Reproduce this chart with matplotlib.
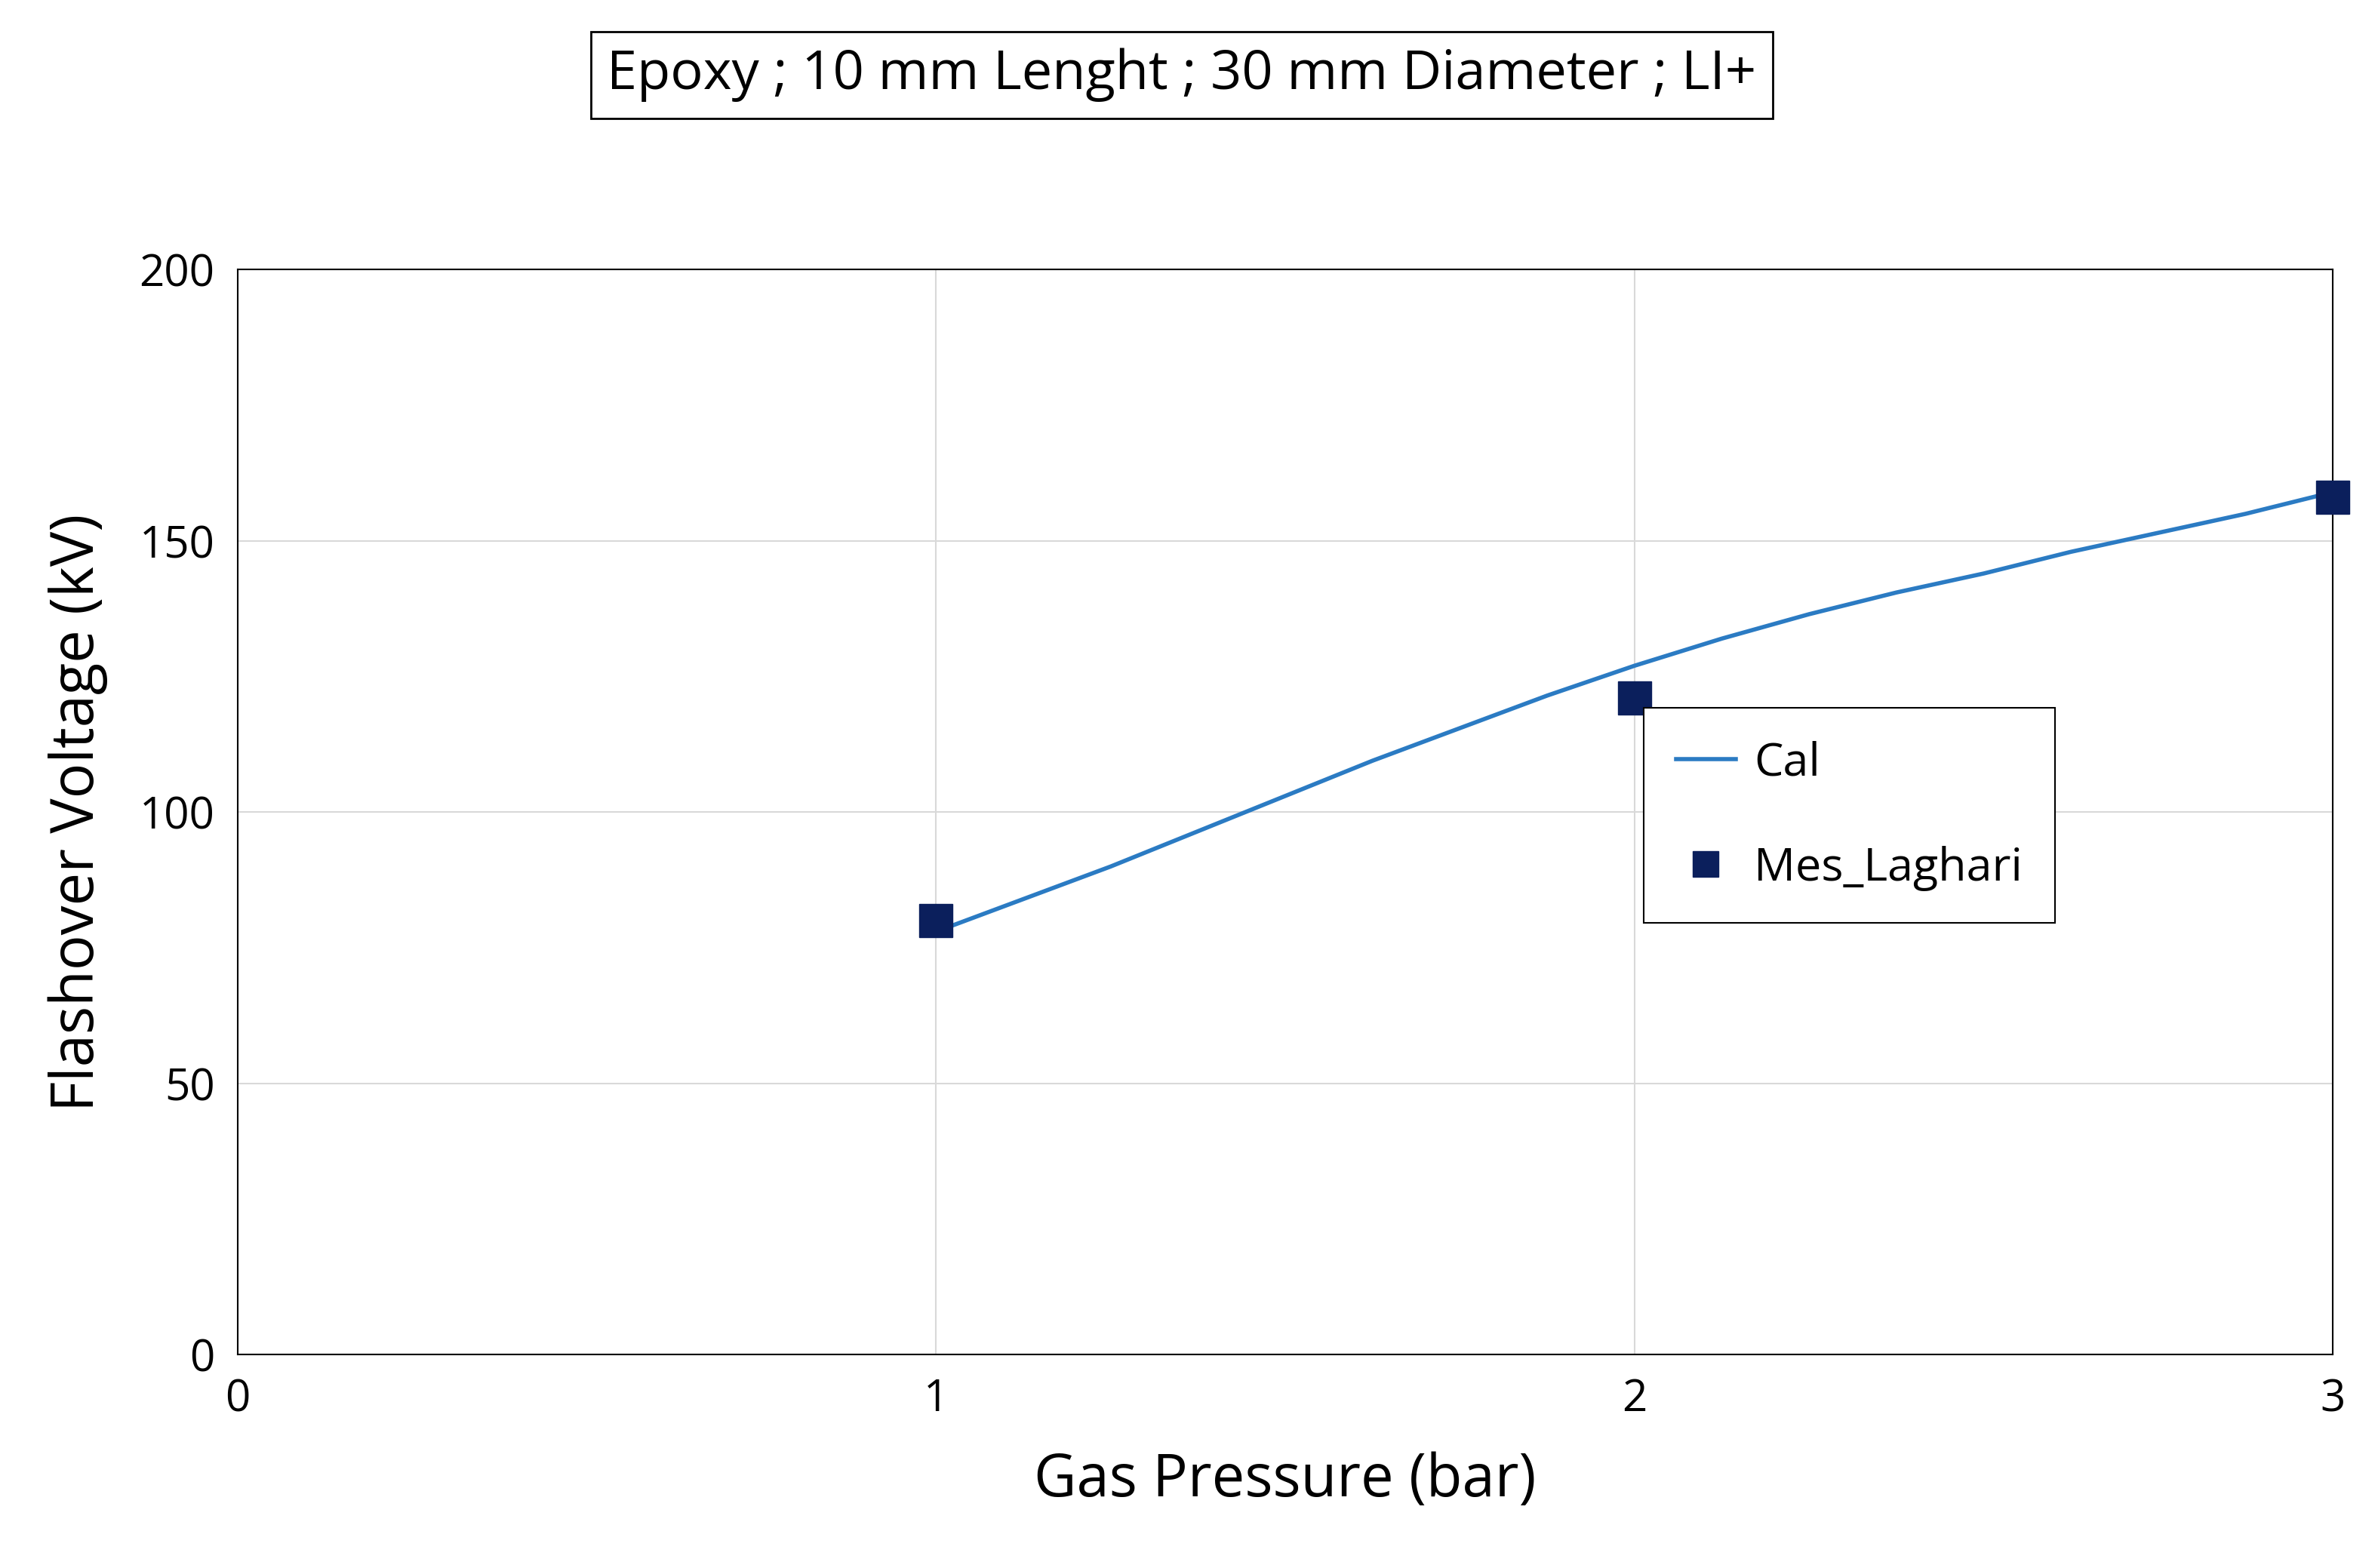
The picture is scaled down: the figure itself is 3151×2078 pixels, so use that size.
import matplotlib
matplotlib.use("Agg")
import matplotlib.pyplot as plt

plt.rcParams['font.family'] = ['Open Sans', 'DejaVu Sans']

cal_x = [1, 1.125, 1.25, 1.375, 1.5, 1.625, 1.75, 1.875, 2, 2.125, 2.25, 2.375, 2.5, 2.625, 2.75, 2.875, 3]
cal_y = [78, 84, 90, 96.5, 103, 109.5, 115.5, 121.5, 127, 132, 136.5, 140.5, 144, 148, 151.5, 155, 159]
mes_x = [1, 2, 3]
mes_y = [80, 121, 158]
title = "Epoxy ; 10 mm Lenght ; 30 mm Diameter ; LI+"

fig = plt.figure(figsize=(31.51, 20.78), dpi=100)
ax = fig.add_axes([0.100, 0.136, 0.881, 0.692])
ax.plot(cal_x, cal_y, color='#2B7BC3', lw=4, label='Cal', zorder=3, solid_joinstyle='round')
ax.plot(mes_x, mes_y, 's', color='#0B1F5C', ms=32, label='Mes_Laghari', clip_on=False, zorder=4)
ax.set_xlim(0, 3)
ax.set_ylim(0, 200)
ax.set_xticks([0, 1, 2, 3])
ax.set_yticks([0, 50, 100, 150, 200])
ax.grid(color='#D9D9D9', lw=1.5)
ax.set_axisbelow(True)
for s in ax.spines.values():
    s.set_color('black'); s.set_linewidth(1.5)
ax.tick_params(labelsize=42, length=0, pad=22)
ax.set_xlabel('Gas Pressure (bar)', fontsize=56, labelpad=28)
ax.set_ylabel('Flashover Voltage (kV)', fontsize=56, labelpad=30)
leg = ax.legend(loc='upper left', bbox_to_anchor=(0.671, 0.596), fontsize=44,
                fancybox=False, edgecolor='black', framealpha=1, handlelength=1.3,
                labelspacing=1.3, borderpad=0.7, handletextpad=0.4, markerscale=0.75,
                borderaxespad=0)
leg.get_frame().set_linewidth(1.5)
fig.text(0.497, 0.952, title, fontsize=52, ha='center', va='center',
         bbox=dict(boxstyle='square,pad=0.3', fc='white', ec='black', lw=2))
fig.savefig('out.png', dpi=100)
